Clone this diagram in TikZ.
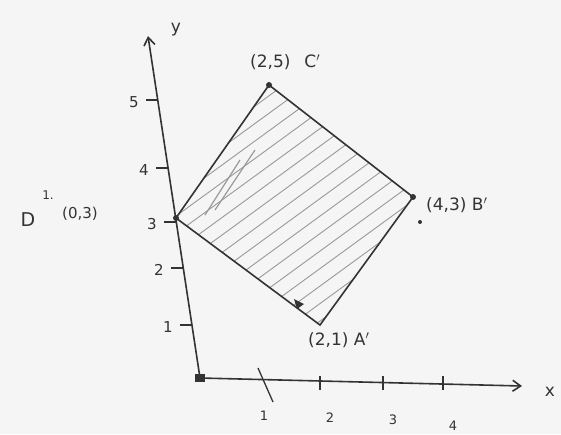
\documentclass[tikz,border=0pt]{standalone}
\usepackage{fontspec}
\setmainfont{DejaVu Sans}
\usetikzlibrary{arrows.meta}
\begin{document}
\begin{tikzpicture}[x=1pt,y=-1pt,
  ink/.style={draw=black!80, line width=1.6pt},
  axis/.style={ink, -{Straight Barb[length=8pt,width=11pt]}},
  tickmark/.style={draw=black!80, line width=1.3pt},
  lbl/.style={text=black!80, font=\fontsize{17}{17}\selectfont, inner sep=0pt},
  hatch/.style={draw=black!40, line width=0.9pt},
  vdot/.style={circle, fill=black!80, inner sep=0pt, minimum size=6pt}]
\fill[black!4] (0,0) rectangle (561,434);
\useasboundingbox (0,0) rectangle (561,434);
% axes
\coordinate (O) at (200,378);
\coordinate (ytip) at (148,36);
\coordinate (xtip) at (522,386);
\fill[black!80] (195,374) rectangle (205,382);
\draw[axis] (O) -- (ytip);
\draw[axis] (O) -- (xtip);
\node[lbl] (ylab) at (176,30) {y};
\node[lbl] (xlab) at (550,392) {x};
% y ticks
\foreach \yy/\xx/\t in {100/158/5, 168/168/4, 222/176/3, 268/183/2, 325/192/1} {
  \draw[tickmark] (\xx-12,\yy) -- (\xx,\yy);
  \node[lbl, font=\fontsize{15}{15}\selectfont] at (\xx-24,\yy+2) {\t};
}
% x ticks
\draw[tickmark] (258,368) -- (273,402);
\foreach \xx/\t/\ly in {320/2/418, 383/3/420, 443/4/426} {
  \draw[tickmark] (\xx,376) -- (\xx,390);
  \node[lbl, font=\fontsize{13}{13}\selectfont] at (\xx+10,\ly) {\t};
}
\node[lbl, font=\fontsize{13}{13}\selectfont] at (264,416) {1};
% square
\coordinate (D) at (176,218);
\coordinate (C) at (269,85);
\coordinate (B) at (413,197);
\coordinate (A) at (320,325);
\begin{scope}
  \clip (D) -- (C) -- (B) -- (A) -- cycle;
  \foreach \k in {-14,...,12} {
    \draw[hatch] (150+\k*24,340) -- (150+\k*24+380,340-277);
  }
  \draw[hatch, line width=1.2pt] (205,215) -- (240,160);
  \draw[hatch, line width=1.2pt] (215,210) -- (255,150);
\end{scope}
\draw[ink] (D) -- (C) -- (B) -- (A) -- cycle;
\node[vdot] (Cd) at (C) {};
\node[vdot] (Bd) at (B) {};
\node[vdot] (Dd) at (D) {};
\node[vdot, minimum size=4pt] (Bd2) at (420,222) {};
\fill[black!80] (294,299) -- (304,304) -- (297,309) -- cycle;
% labels
\node[lbl, anchor=west] (Clab) at (250,62) {(2,5)\hspace{14pt}C$'$};
\node[lbl, anchor=west] (Blab) at (426,205) {(4,3) B$'$};
\node[lbl, anchor=west] (Alab) at (308,340) {(2,1) A$'$};
\node[lbl, font=\fontsize{19}{19}\selectfont] (Dlab) at (28,220) {D};
\node[lbl, font=\fontsize{12}{12}\selectfont] (Dmark) at (48,195) {1.};
\node[lbl, anchor=west, font=\fontsize{15}{15}\selectfont] (Dco) at (62,214) {(0,3)};
\end{tikzpicture}
\end{document}
